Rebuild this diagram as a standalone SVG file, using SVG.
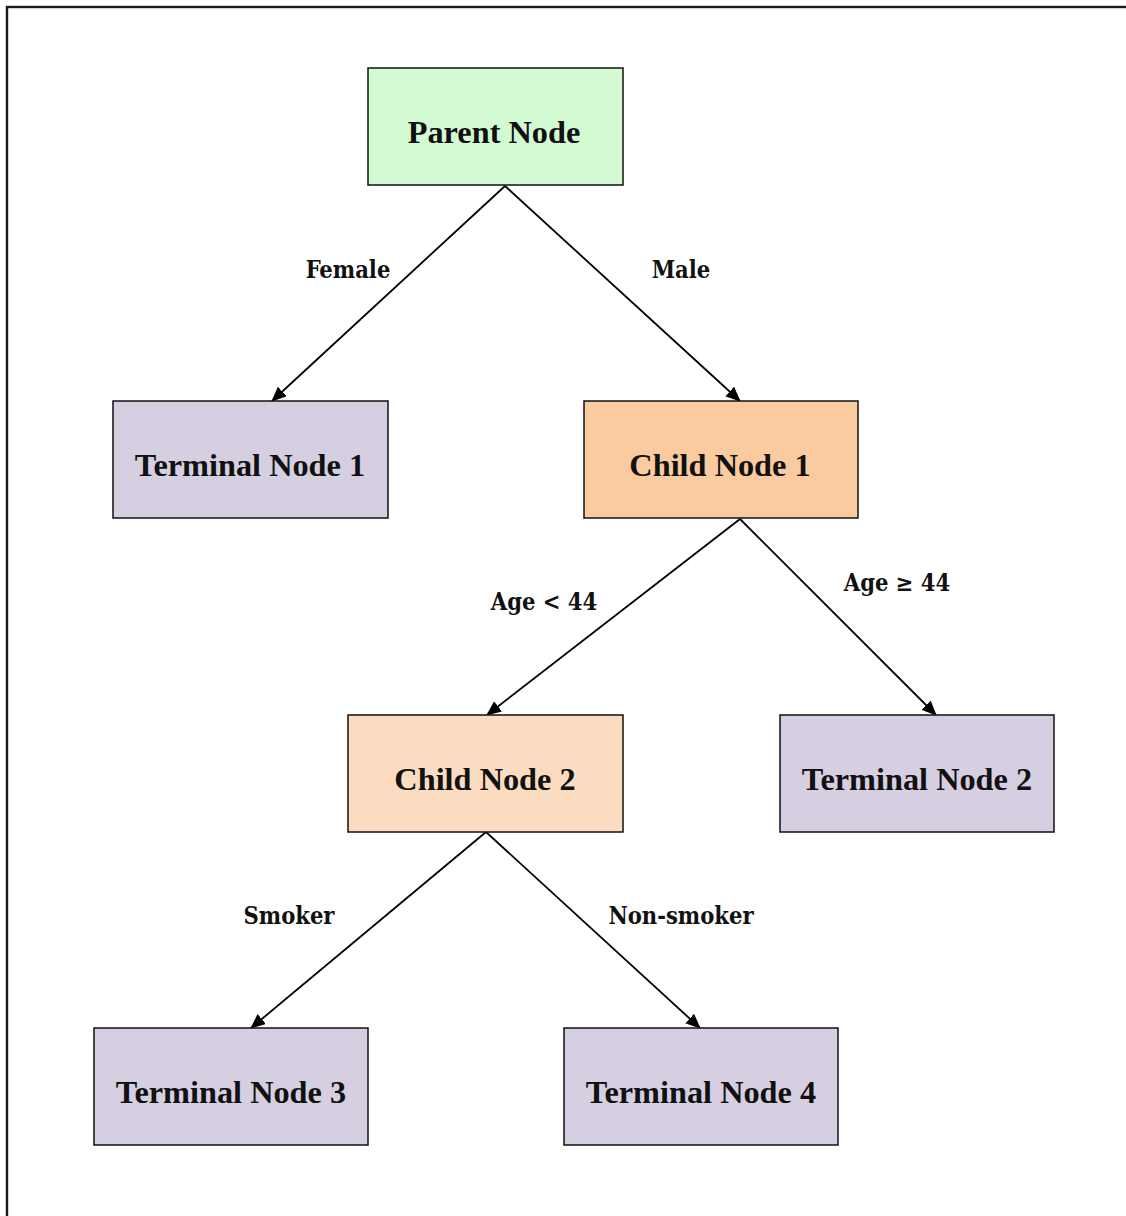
<svg xmlns="http://www.w3.org/2000/svg" width="1126" height="1216" viewBox="0 0 1126 1216">
<style>
.box{stroke:#111;stroke-width:1.5}
.nt{font-family:"Liberation Serif",serif;font-weight:bold;font-size:32.3px;text-anchor:middle;fill:#111}
.lb{font-family:"DejaVu Serif","Liberation Serif",serif;font-stretch:condensed;font-weight:bold;font-size:23.5px;text-anchor:middle;fill:#111}
.cn{stroke:#000;stroke-width:1.8;fill:none;marker-end:url(#ah)}
</style>
<defs>
<marker id="ah" markerWidth="15" markerHeight="13" refX="14" refY="6.5" orient="auto" markerUnits="userSpaceOnUse">
<path d="M0,0 L15,6.5 L0,13 z" fill="#000"/>
</marker>
</defs>
<rect x="7" y="7" width="1130" height="1220" fill="#fff" stroke="#1a1a1a" stroke-width="2.4"/>
<g id="connectors">
<line class="cn" x1="505" y1="186" x2="272" y2="401"/>
<line class="cn" x1="505" y1="186" x2="740" y2="401"/>
<line class="cn" x1="740" y1="519" x2="487" y2="715"/>
<line class="cn" x1="740" y1="519" x2="936" y2="715"/>
<line class="cn" x1="486" y1="832" x2="251" y2="1028"/>
<line class="cn" x1="486" y1="832" x2="700" y2="1028"/>
<text class="lb" x="348" y="278">Female</text>
<text class="lb" x="681" y="278">Male</text>
<text class="lb" x="544" y="610">Age &lt; 44</text>
<text class="lb" x="897" y="591">Age ≥ 44</text>
<text class="lb" x="289" y="924">Smoker</text>
<text class="lb" x="681" y="924">Non-smoker</text>
</g>
<g id="parent"><rect class="box" x="368" y="68" width="255" height="117" fill="#d3fad3"/><text class="nt" x="494" y="143">Parent Node</text></g>
<g id="terminal1"><rect class="box" x="113" y="401" width="275" height="117" fill="#d6cfe1"/><text class="nt" x="250" y="476">Terminal Node 1</text></g>
<g id="child1"><rect class="box" x="584" y="401" width="274" height="117" fill="#fbcba0"/><text class="nt" x="720" y="476">Child Node 1</text></g>
<g id="child2"><rect class="box" x="348" y="715" width="275" height="117" fill="#fbdcc0"/><text class="nt" x="485" y="790">Child Node 2</text></g>
<g id="terminal2"><rect class="box" x="780" y="715" width="274" height="117" fill="#d6cfe1"/><text class="nt" x="917" y="790">Terminal Node 2</text></g>
<g id="terminal3"><rect class="box" x="94" y="1028" width="274" height="117" fill="#d6cfe1"/><text class="nt" x="231" y="1103">Terminal Node 3</text></g>
<g id="terminal4"><rect class="box" x="564" y="1028" width="274" height="117" fill="#d6cfe1"/><text class="nt" x="701" y="1103">Terminal Node 4</text></g>
</svg>
